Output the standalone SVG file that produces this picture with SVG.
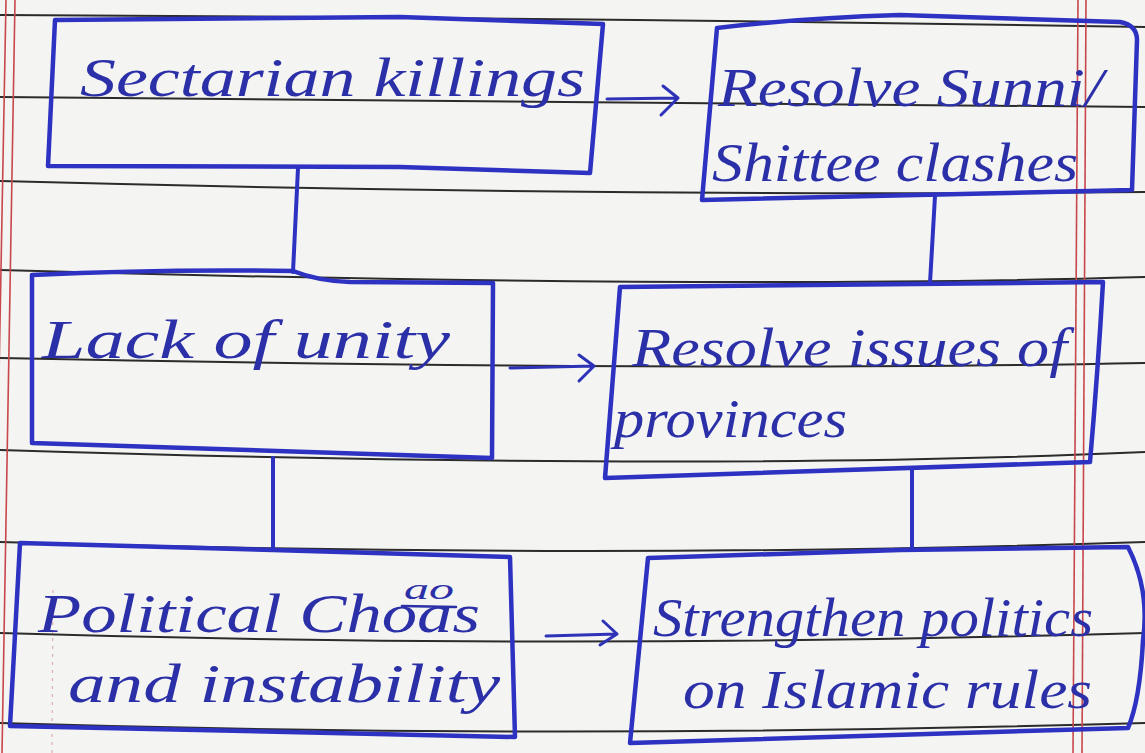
<svg xmlns="http://www.w3.org/2000/svg" width="1145" height="753" viewBox="0 0 1145 753">
<defs>
<style>
.paper{fill:#f4f4f2}
.rule{fill:none;stroke:#2b2b2b;stroke-width:2}
.margin{fill:none;stroke:#c8474a;stroke-width:1.6}
.box{fill:none;stroke:#2d32c2;stroke-width:4.5;stroke-linejoin:round;stroke-linecap:round}
.conn{fill:none;stroke:#2d32c2;stroke-width:4;stroke-linecap:round;stroke-linejoin:round}
.arrow{fill:none;stroke:#2d32b8;stroke-width:3;stroke-linecap:round;stroke-linejoin:round}
.hw{font-family:"Liberation Serif","DejaVu Serif",serif;font-style:italic;font-size:54px;fill:#2c30a8}
.hws{font-family:"Liberation Serif","DejaVu Serif",serif;font-style:italic;font-size:30px;fill:#2c30a8}
</style>
</defs>
<rect class="paper" x="0" y="0" width="1145" height="753"/>
<g id="paper-lines">
<path class="rule" d="M0,15 Q600,18 1145,27"/>
<path class="rule" d="M0,97 Q600,104 1145,107"/>
<path class="rule" d="M0,181 Q600,197 1145,192"/>
<path class="rule" d="M0,270 Q700,290 1145,277"/>
<path class="rule" d="M0,358 Q700,372 1145,363"/>
<path class="rule" d="M0,450 Q700,472 1145,452"/>
<path class="rule" d="M0,542 Q600,560 1145,542"/>
<path class="rule" d="M0,633 Q550,650 1145,633"/>
<path class="rule" d="M0,723 Q550,740 1145,723"/>
<path class="margin" d="M6,0 L-8,753"/>
<path class="margin" d="M15,0 L2,753"/>
<path class="margin" d="M1078,0 L1073,753"/>
<path class="margin" d="M1086,0 L1082,753"/>
<path d="M53,590 L52,753" fill="none" stroke="#d08080" stroke-width="1.2" stroke-dasharray="3 5" opacity="0.6"/>
</g>
<g id="connectors">
<path class="conn" d="M298,168 L293,272"/>
<path class="conn" d="M935,196 L930,283"/>
<path class="conn" d="M273,458 L273,548"/>
<path class="conn" d="M912,468 L912,550"/>
<path class="arrow" d="M607,99 L678,98 M663,86 L678,98 L661,115"/>
<path class="arrow" d="M510,368 L594,366 M579,355 L594,366 L579,381"/>
<path class="arrow" d="M546,636 L617,634 M603,621 L617,634 L600,645"/>
</g>
<g id="node-sectarian">
<path class="box" d="M55,20 L400,17 L603,24 L590,173 L400,167 L48,166 Z"/>
<text class="hw" x="80" y="96" textLength="505" lengthAdjust="spacingAndGlyphs">Sectarian killings</text>
</g>
<g id="node-sunni">
<path class="box" d="M717,28 Q800,18 900,15 L1120,22 Q1137,25 1137,40 L1132,190 L702,200 Z"/>
<text class="hw" x="718" y="106" textLength="385" lengthAdjust="spacingAndGlyphs">Resolve Sunni/</text>
<text class="hw" x="712" y="181" textLength="366" lengthAdjust="spacingAndGlyphs">Shittee clashes</text>
</g>
<g id="node-unity">
<path class="box" d="M32,275 Q160,269 293,271 Q318,281 350,282 L493,283 L492,458 L32,443 Z"/>
<text class="hw" x="42" y="358" textLength="408" lengthAdjust="spacingAndGlyphs">Lack of unity</text>
</g>
<g id="node-provinces">
<path class="box" d="M620,287 L1103,282 Q1098,370 1090,462 L605,478 Z"/>
<text class="hw" x="632" y="366" textLength="435" lengthAdjust="spacingAndGlyphs">Resolve issues of</text>
<text class="hw" x="614" y="437" textLength="233" lengthAdjust="spacingAndGlyphs">provinces</text>
</g>
<g id="node-chaos">
<path class="box" d="M20,543 L273,550 L510,557 L515,737 L10,726 Z"/>
<text class="hw" x="38" y="632" textLength="442" lengthAdjust="spacingAndGlyphs">Political Choas</text>
<text class="hws" x="404" y="599" textLength="50" lengthAdjust="spacingAndGlyphs">ao</text>
<path d="M402,606 L456,607" fill="none" stroke="#2c30a8" stroke-width="2.5" stroke-linecap="round"/>
<text class="hw" x="68" y="702" textLength="432" lengthAdjust="spacingAndGlyphs">and instability</text>
</g>
<g id="node-strengthen">
<path class="box" d="M648,558 L900,550 L1128,547 Q1150,590 1143,640 Q1140,700 1128,728 L630,743 Z"/>
<text class="hw" x="653" y="636" textLength="440" lengthAdjust="spacingAndGlyphs">Strengthen politics</text>
<text class="hw" x="683" y="708" textLength="409" lengthAdjust="spacingAndGlyphs">on Islamic rules</text>
</g>
</svg>
